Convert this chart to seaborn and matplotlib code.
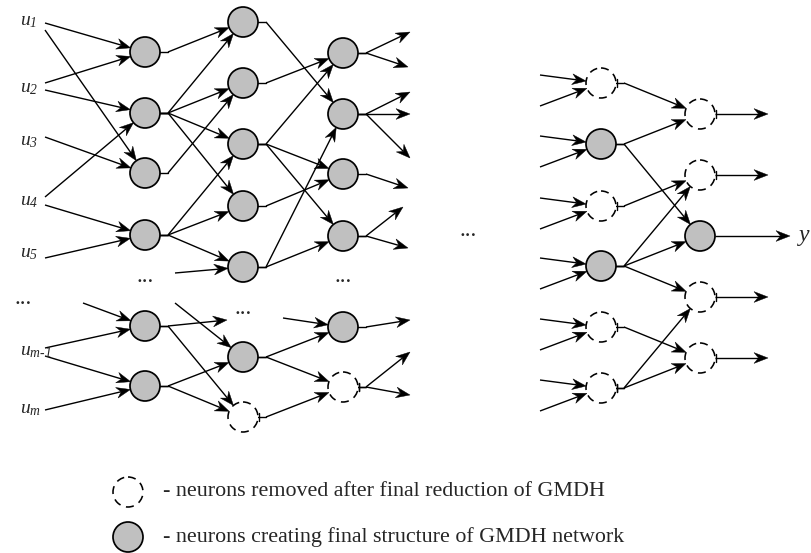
import numpy as np
import matplotlib
matplotlib.use("Agg")
import matplotlib.pyplot as plt
from matplotlib.patches import Circle, Polygon
import seaborn as sns

sns.set_theme(style="white")
plt.rcParams['font.family'] = ['Liberation Serif', 'DejaVu Serif']
plt.rcParams['mathtext.fontset'] = 'custom'
plt.rcParams['mathtext.it'] = 'Liberation Serif:italic'
plt.rcParams['mathtext.rm'] = 'Liberation Serif:italic'

# ---------------- data (diagram structure) ----------------
R = 15
layer_x = [145, 243, 343, 601, 700]
layer_y = [
    [52, 113, 173, 235, 326, 386],
    [22, 83, 144, 206, 267, 357, 417],
    [53, 114, 174, 236, 327, 387],
    [83, 144, 206, 266, 327, 388],
    [114, 175, 236, 297, 358],
]
layer_kept = [
    [1, 1, 1, 1, 1, 1],
    [1, 1, 1, 1, 1, 1, 0],
    [1, 1, 1, 1, 1, 0],
    [0, 1, 0, 1, 0, 0],
    [0, 0, 1, 0, 0],
]
input_labels = ["$u_1$", "$u_2$", "$u_3$", "$u_4$", "$u_5$", "...", "$u_{m\\text{-}1}$", "$u_m$"]
input_label_y = [22, 88, 141, 201, 254, 304, 352, 410]
# input lines: (start_x, start_y, target node in layer 1)
input_edges = [(45, 23, 0), (45, 30, 2), (45, 83, 0), (45, 90, 1), (45, 137, 2),
               (45, 197, 1), (45, 205, 3), (45, 258, 3), (83, 303, 4),
               (45, 348, 4), (45, 356, 5), (45, 410, 5)]
# edges between consecutive layers: (layer, src, dst)
layer_edges = [
    (0, 0, 0), (0, 1, 0), (0, 1, 1), (0, 1, 2), (0, 1, 3), (0, 2, 1), (0, 3, 2),
    (0, 3, 3), (0, 3, 4), (0, 4, 6), (0, 5, 5), (0, 5, 6),
    (1, 0, 1), (1, 1, 0), (1, 2, 0), (1, 2, 2), (1, 2, 3), (1, 3, 2), (1, 4, 1),
    (1, 4, 3), (1, 5, 4), (1, 5, 5), (1, 6, 5),
    (3, 0, 0), (3, 1, 0), (3, 1, 2), (3, 2, 1), (3, 3, 1), (3, 3, 2), (3, 3, 3),
    (3, 4, 4), (3, 5, 3), (3, 5, 4),
]
# loose incoming lines: (start_x, start_y, layer, dst)
loose_in = [(175, 273, 1, 4), (175, 303, 1, 5), (283, 318, 2, 4)]
# loose outgoing arrows: (layer, src, tip_x, tip_y)
loose_out = [(0, 4, 227, 320),
             (2, 0, 410, 32), (2, 0, 408, 67), (2, 1, 410, 92), (2, 1, 410, 114),
             (2, 1, 410, 158), (2, 2, 408, 188), (2, 3, 403, 207), (2, 3, 408, 248),
             (2, 4, 410, 320), (2, 5, 410, 352), (2, 5, 410, 395)]
final_out_x = 768
y_out_x = 790
dots = [(145, 283), (243, 314), (343, 283), (468, 237)]
legend_texts = ["- neurons removed after final reduction of GMDH",
                "- neurons creating final structure of GMDH network"]
legend_y = [492, 537]

# ---------------- drawing ----------------
fig = plt.figure(figsize=(8.11, 5.53), dpi=100)
ax = fig.add_axes([0, 0, 1, 1])
ax.set_xlim(0, 811)
ax.set_ylim(553, 0)
ax.set_aspect('equal')
ax.axis('off')

LW = 1.0
HL, HW, NOTCH = 14, 5.4, 4.5


def arrow(x0, y0, x1, y1):
    d = np.array([x1 - x0, y1 - y0], float)
    d /= np.hypot(*d)
    n = np.array([-d[1], d[0]])
    tip = np.array([x1, y1], float)
    back = tip - HL * d
    mid = tip - (HL - NOTCH) * d
    ax.plot([x0, mid[0]], [y0, mid[1]], color='black', lw=LW, solid_capstyle='butt', zorder=2)
    ax.add_patch(Polygon([tip, back + HW * n, mid, back - HW * n], closed=True,
                         facecolor='black', edgecolor='black', lw=0.3, zorder=3))


def to_node(x0, y0, cx, cy):
    d = np.array([cx - x0, cy - y0], float)
    d /= np.hypot(*d)
    tx, ty = cx - R * d[0], cy - R * d[1]
    arrow(x0, y0, tx, ty)


def stub(li, i):
    x = layer_x[li] + R
    y = layer_y[li][i]
    ax.plot([x, x + 8], [y, y], color='black', lw=LW, zorder=2)
    if not layer_kept[li][i]:
        ax.plot([x + 1, x + 1], [y - 4, y + 4], color='black', lw=LW, zorder=2)
    return x + 8, y


def node(x, y, kept):
    if kept:
        ax.add_patch(Circle((x, y), R, facecolor='#c0c0c0', edgecolor='black', lw=1.25, zorder=4))
    else:
        ax.add_patch(Circle((x, y), R, facecolor='white', edgecolor='black', lw=1.15,
                            linestyle=(0, (5.0, 3.6)), zorder=4))


for li, (lx, ys) in enumerate(zip(layer_x, layer_y)):
    for i, y in enumerate(ys):
        node(lx, y, layer_kept[li][i])

for lab, ly in zip(input_labels, input_label_y):
    if lab == "...":
        ax.text(23, ly - 6, "...", fontsize=17, ha='center', va='center')
    else:
        ax.text(20, ly, lab, fontsize=14, ha='left', va='center')

for sx, sy, t in input_edges:
    to_node(sx, sy, layer_x[0], layer_y[0][t])

for li, s, t in layer_edges:
    x0, y0 = stub(li, s)
    to_node(x0, y0, layer_x[li + 1], layer_y[li + 1][t])

for sx, sy, li, t in loose_in:
    to_node(sx, sy, layer_x[li], layer_y[li][t])

for li, s, tx, ty in loose_out:
    x0, y0 = stub(li, s)
    arrow(x0, y0, tx, ty)

# layer 4 loose inputs
for i, y in enumerate(layer_y[3]):
    to_node(540, y - 8, layer_x[3], y)
    to_node(540, y + 23, layer_x[3], y)

# final outputs
for i, y in enumerate(layer_y[4]):
    x0 = layer_x[4] + R
    if layer_kept[4][i]:
        arrow(x0, y, y_out_x, y)
        ax.text(797, y + 1, "$y$", fontsize=17, ha='left', va='center')
    else:
        ax.plot([x0 + 1, x0 + 1], [y - 4, y + 4], color='black', lw=LW, zorder=2)
        arrow(x0, y, final_out_x, y)

for dx, dy in dots:
    ax.text(dx, dy - 6, "...", fontsize=17, ha='center', va='center')

# legend
node(128, legend_y[0], 0)
node(128, legend_y[1], 1)
for t, ly in zip(legend_texts, legend_y):
    ax.text(163, ly, t, fontsize=15.8, ha='left', va='center')

fig.savefig("out.png", dpi=100)
